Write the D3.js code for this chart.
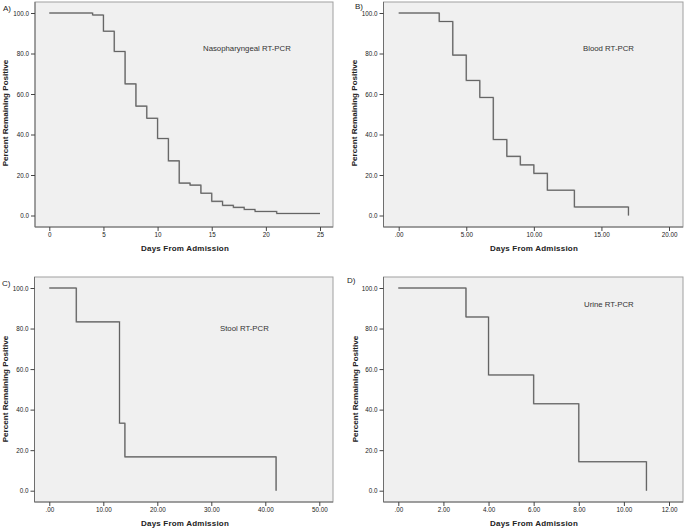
<!DOCTYPE html>
<html><head><meta charset="utf-8">
<script src="https://cdn.jsdelivr.net/npm/d3@7"></script>
<style>body{margin:0;background:#fff}svg{display:block;font-family:"Liberation Sans",Arial,sans-serif}</style>
</head><body>
<svg id="c" width="685" height="529"></svg>
<script>
// ---- data ----
const nasoDays = [0,4,5,6,7,8,9,10,11,12,13,14,15,16,17,18,19,21,25];
const nasoPct  = [100,99,91,81,65,54,48,38,27,16,15,11,7,5,4,3,2,1,1];
const bloodDays = [0,3,4,5,6,7,8,9,10,11,13,17];
const bloodPct  = [100,95.8,79.2,66.7,58.3,37.5,29.2,25,20.8,12.5,4.2,0];
const stoolDays = [0,5,13,14,42];
const stoolPct  = [100,83.3,33.3,16.7,0];
const urineDays = [0,3,4,6,8,11];
const urinePct  = [100,85.7,57.1,42.9,14.3,0];
const yTicks = [0,20,40,60,80,100];
const xTicksA = [0,5,10,15,20,25];
const xTicksB = [0,5,10,15,20];
const xTicksC = [0,10,20,30,40,50];
const xTicksD = [0,2,4,6,8,10,12];
const panelLetters = ["A)","B)","C)","D)"];
const panelNames = ["Nasopharyngeal RT-PCR","Blood RT-PCR","Stool RT-PCR","Urine RT-PCR"];
const xTitle = "Days From Admission";
const yTitle = "Percent Remaining Positive";

const svg = d3.select("#c");
const fmtInt = d3.format("d");
const fmt2 = d => d === 0 ? ".00" : d3.format(".2f")(d);

const panels = [
  {days:nasoDays,pct:nasoPct,xt:xTicksA,xmax:25,fmt:fmtInt,
   L:35,R:333,T:2,B:227,x0:49.3,x1:320,y0:215.5,y1:13,
   letter:[3,8],name:[203,48],yt:[5,113],xtt:[185,248]},
  {days:bloodDays,pct:bloodPct,xt:xTicksB,xmax:20,fmt:fmt2,
   L:383.5,R:683,T:2,B:227,x0:398.7,x1:669,y0:215.5,y1:13,
   letter:[355,6],name:[583,48],yt:[354,113],xtt:[534,248]},
  {days:stoolDays,pct:stoolPct,xt:xTicksC,xmax:50,fmt:fmt2,
   L:34.5,R:333,T:277,B:502,x0:49.3,x1:319.3,y0:490.7,y1:288,
   letter:[2,283],name:[220,328],yt:[5.5,389],xtt:[185,523]},
  {days:urineDays,pct:urinePct,xt:xTicksD,xmax:12,fmt:fmt2,
   L:383.5,R:683,T:277,B:502,x0:398.3,x1:669,y0:490.7,y1:288,
   letter:[347,280],name:[584,304],yt:[355,389],xtt:[534,523]}
];

panels.forEach((p,i)=>{
  const g = svg.append("g");
  const x = d3.scaleLinear().domain([0,p.xmax]).range([p.x0,p.x1]);
  const y = d3.scaleLinear().domain([0,100]).range([p.y0,p.y1]);
  g.append("rect").attr("x",p.L).attr("y",p.T).attr("width",p.R-p.L).attr("height",p.B-p.T)
    .attr("fill","#f0f0f0").attr("stroke","#a0a0a0").attr("stroke-width",1);
  g.append("line").attr("x1",p.L).attr("x2",p.L).attr("y1",p.T).attr("y2",p.B).attr("stroke","#6e6e6e");
  g.append("line").attr("x1",p.L).attr("x2",p.R).attr("y1",p.B).attr("y2",p.B).attr("stroke","#6e6e6e");

  const ya = g.append("g").attr("transform",`translate(${p.L},0)`)
    .call(d3.axisLeft(y).tickValues(yTicks).tickFormat(d3.format(".1f")).tickSize(4).tickPadding(2));
  ya.select(".domain").remove();
  ya.selectAll("line").attr("stroke","#444");
  ya.selectAll("text").attr("font-size","6.3px").attr("fill","#222").attr("font-family","Liberation Sans, Arial, sans-serif");

  const xa = g.append("g").attr("transform",`translate(0,${p.B})`)
    .call(d3.axisBottom(x).tickValues(p.xt).tickFormat(p.fmt).tickSize(4).tickPadding(2));
  xa.select(".domain").remove();
  xa.selectAll("line").attr("stroke","#444");
  xa.selectAll("text").attr("font-size","6.3px").attr("fill","#222").attr("font-family","Liberation Sans, Arial, sans-serif");

  const pts = p.days.map((d,k)=>[d,p.pct[k]]);
  const line = d3.line().x(d=>x(d[0])).y(d=>y(d[1])).curve(d3.curveStepAfter);
  g.append("path").attr("d",line(pts)).attr("fill","none").attr("stroke","#a8a8a8").attr("stroke-width",1.6);
  g.append("path").attr("d",line(pts)).attr("fill","none").attr("stroke","#5a5a5a").attr("stroke-width",0.9);

  g.append("text").attr("x",p.letter[0]).attr("y",p.letter[1]).attr("dy","0.35em")
    .attr("font-size","8px").attr("fill","#222").text(panelLetters[i]);
  g.append("text").attr("x",p.name[0]).attr("y",p.name[1]).attr("dy","0.35em")
    .attr("font-size","7.8px").attr("fill","#333").text(panelNames[i]);
  g.append("text").attr("transform",`translate(${p.yt[0]},${p.yt[1]}) rotate(-90)`)
    .attr("text-anchor","middle").attr("dy","0.35em").attr("font-size","8.1px").attr("font-weight","bold")
    .attr("fill","#222").text(yTitle);
  g.append("text").attr("x",p.xtt[0]).attr("y",p.xtt[1]).attr("text-anchor","middle").attr("dy","0.35em")
    .attr("font-size","8px").attr("font-weight","bold").attr("letter-spacing","0.2px")
    .attr("fill","#222").text(xTitle);
});
</script>
</body></html>
